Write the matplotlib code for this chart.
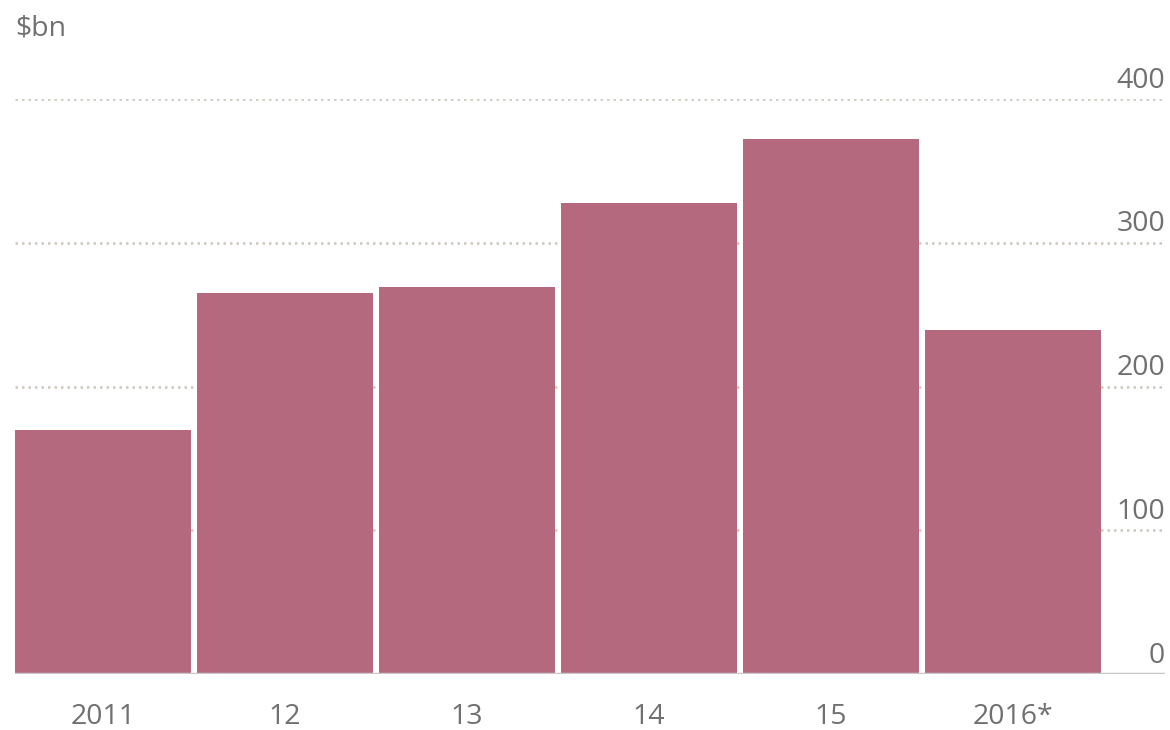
import matplotlib.pyplot as plt

years = ['2011', '12', '13', '14', '15', '2016*']
values = [170, 265, 269, 328, 372, 239]
yticks = [0, 100, 200, 300, 400]

plt.rcParams['font.family'] = ['Open Sans', 'DejaVu Sans']

fig = plt.figure(figsize=(11.7, 7.3), dpi=100)
ax = fig.add_axes([15 / 1170, 1 - 674 / 730, 1150 / 1170, (674 - 99) / 730])

x = list(range(len(years)))
ax.bar(x, values, width=176 / 182, color='#b5697f', zorder=2)

ax.set_xlim(-0.4835, 5.835)
ax.set_ylim(0, 400)

for t in yticks[1:]:
    ax.axhline(t, color='#cdc8bf', linestyle=(0, (1, 1.6)), linewidth=1.8, zorder=1)
for t in yticks:
    ax.text(1.0, t + 3, str(t), transform=ax.get_yaxis_transform(), ha='right', va='bottom',
            fontsize=20.5, color='#707070')
ax.axhline(0, color='#c8c8c8', linewidth=2.5, zorder=3)

for xi, lab in zip(x, years):
    ax.text(xi, -20, lab, ha='center', va='top', fontsize=20.5, color='#707070')

ax.text(0, 1.098, '$bn', transform=ax.transAxes, ha='left', va='bottom',
        fontsize=20.5, color='#707070')

for s in ax.spines.values():
    s.set_visible(False)
ax.set_xticks([])
ax.set_yticks([])

fig.savefig('out.png', dpi=100)
